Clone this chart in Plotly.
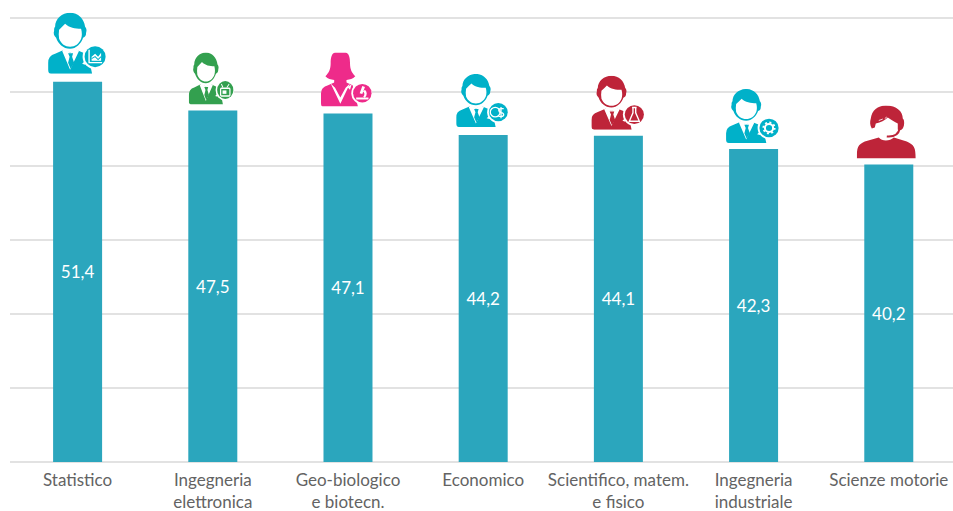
import base64
import plotly.graph_objects as go

categories = ["Statistico", "Ingegneria<br>elettronica", "Geo-biologico<br>e biotecn.", "Economico",
              "Scientifico, matem.<br>e fisico", "Ingegneria<br>industriale", "Scienze motorie"]
values = [51.4, 47.5, 47.1, 44.2, 44.1, 42.3, 40.2]
value_labels = ["51,4", "47,5", "47,1", "44,2", "44,1", "42,3", "40,2"]

BAR = "#2ba6bd"
GRID = "#e2e2e2"
TEXT = "#636363"
TEAL, GREEN, PINK, RED = "#00b1c9", "#33a04f", "#ee2b8a", "#be2439"
FONT = "Lato"
PX_PER_X, PX_PER_Y = 135.2, 7.4
X_RANGE = [-0.5, 6.475]
Y_RANGE = [0, 60.27]

GLYPHS = {
    "chart": '<path d="M41 37V50H54" fill="none" stroke="#fff" stroke-width="1.4"/><path d="M43.500 44L47 41L50 44L53 40V48H43.500Z" fill="#fff"/><path d="M43.500 46L47 44L50 47L53 44" fill="none" stroke="#00b1c9" stroke-width="1"/>',
    "tv": '<rect x="41" y="42" width="12" height="9" rx="1" fill="none" stroke="#fff" stroke-width="1.6"/><rect x="43.5" y="44.5" width="5" height="4" fill="#fff"/><path d="M44 41L42 37M49 41L52 37" stroke="#fff" stroke-width="1.2"/>',
    "micro": '<path d="M40 52H54V50H40zM47 37l3 1-3 8-3-1zM50 41a6 6 0 0 1 0 9l-2-1a4 4 0 0 0 0-6z" fill="#fff"/>',
    "money": '<circle cx="43.500" cy="44" r="5.500" fill="none" stroke="#fff" stroke-width="1.5"/><path d="M53 40H50Q47.500 40 47.500 42Q47.500 44 50 44.500Q53 45 53 47Q53 49 50 49H47M50 38V51" fill="none" stroke="#fff" stroke-width="1.4"/>',
    "flask": '<path d="M44.500 36H49.500M45.500 36V42L41.500 51.500H52.500L48.500 42V36" fill="none" stroke="#fff" stroke-width="1.5"/>',
    "gear": '<circle cx="47" cy="44" r="4.500" fill="none" stroke="#fff" stroke-width="2.200"/><circle cx="47" cy="44" r="6.200" fill="none" stroke="#fff" stroke-width="2" stroke-dasharray="2.200 2.600"/>',
}


def svg_uri(body, w, h):
    svg = (f'<svg xmlns="http://www.w3.org/2000/svg" width="{w * 4}" height="{h * 4}" '
           f'viewBox="0 0 {w} {h}" preserveAspectRatio="none">{body}</svg>')
    return "data:image/svg+xml;base64," + base64.b64encode(svg.encode()).decode()


def person(color, glyph, r=11):
    head = (f'<path d="M22 0C30 0 36 6 37 14C38 15 39 17 38 20C38 23 37 24 35 25C33 31 28 36 22 36'
            f'C15 36 10 31 8 25C6 23 5 21 6 18C6 16 6 15 7 14C7 6 14 0 22 0Z" fill="{color}"/>'
            f'<path d="M11 17C13 15 15 13 17 11C21 15 27 16 33 16C34 20 34 23 33 26C31 31 27 34 22 34'
            f'C17 34 13 31 11 26C10.500 23 10.500 20 11 17Z" fill="#fff"/>')
    body = (f'<path d="M3 61Q0 61 0 57V50Q0 43 7 41L16 37L22 40L28 37L40 42L44 61Z" fill="{color}"/>'
            f'<path d="M14 38L22 57L31 38L27 36L22 40L17 36Z" fill="#fff"/>'
            f'<path d="M20 40.500H25L24 44L26 50L22.500 56L20 50L21.500 44Z" fill="{color}"/>'
            f'<path d="M34 51L41 44L37 52Z" fill="#fff"/>')
    badge = (f'<circle cx="47" cy="44" r="{r + 1.5}" fill="#fff"/><circle cx="47" cy="44" r="{r - 0.5}" fill="{color}"/>'
             + GLYPHS[glyph])
    return svg_uri(head + body + badge, 58, 61)


def woman(color, glyph):
    hair = (f'<path d="M16 0H28C32 1 33 6 33 12C33 19 35 23 39 27C36 30 33 31 29 31V36H15V31C11 31 8 30 5 27'
            f'C9 23 11 19 11 12C11 6 12 1 16 0Z" fill="{color}"/>')
    body = (f'<path d="M2 61Q0 61 0 57V46Q0 39 8 37L17 33H27L36 37L42 61Z" fill="{color}"/>')
    collar = (f'<path d="M11 35L22 58L33 35L28 40L22 51L16 40Z" fill="#fff"/>'
              f'<path d="M30 39L35 36L33 42Z" fill="#fff"/>')
    badge = (f'<circle cx="47" cy="46" r="12.500" fill="#fff"/><circle cx="47" cy="46" r="10.500" fill="{color}"/>'
             f'<g transform="translate(0 1)">{GLYPHS[glyph]}</g>')
    return svg_uri(hair + body + collar + badge, 58, 61)


def headset(color):
    hair = (f'<path d="M29 0C40 0 46 6 46 13C48 14 48 22 45 24C44 25 42 25 41 24L41 18'
            f'C37 16 34 14 31 12C28 15 24 17 19 18L18 22L15 23C13 20 13 16 14 13C15 5 21 0 29 0Z" fill="{color}"/>'
            f'<path d="M43 23Q41 32 30 31" fill="none" stroke="{color}" stroke-width="2"/>'
            f'<path d="M22 15L26 13.500M28 13L30 11.500" stroke="#fff" stroke-width="0.800"/>')
    shoulders = (f'<path d="M0 53C0 42 1 39 8 36L22 32C25 36 33 36 37 32L50 36C57 39 59 42 59 53Z" fill="{color}"/>')
    return svg_uri(hair + shoulders, 59, 53)


# icon, left offset from bar centre, width, height, gap above bar (px)
icons = [
    (person(TEAL, "chart"), -29.5, 58, 61, 8),
    (person(GREEN, "tv"), -24, 45, 52, 6),
    (woman(PINK, "micro"), -27, 51, 54, 7),
    (person(TEAL, "money"), -27, 52, 53, 8),
    (person(RED, "flask"), -27, 53, 54, 6),
    (person(TEAL, "gear"), -27.5, 53, 54, 6),
    (headset(RED), -32, 59, 53, 6),
]

fig = go.Figure(go.Bar(
    x=list(range(len(categories))), y=values, width=49 / PX_PER_X,
    marker=dict(color=BAR, line=dict(width=0)),
    text=value_labels, textposition="inside", insidetextanchor="middle", textangle=0,
    insidetextfont=dict(family=FONT, size=17, color="#ffffff"),
    hoverinfo="skip",
))

x_span = X_RANGE[1] - X_RANGE[0]
y_span = Y_RANGE[1] - Y_RANGE[0]
images = []
for i, (src, left, w, h, gap) in enumerate(icons):
    # paper-anchored so that the tallest icon is not clipped by the plot area
    images.append(dict(source=src, xref="paper", yref="paper",
                       x=(i + left / PX_PER_X - X_RANGE[0]) / x_span,
                       y=(values[i] + (gap + h) / PX_PER_Y - Y_RANGE[0]) / y_span,
                       sizex=w / PX_PER_X / x_span, sizey=h / PX_PER_Y / y_span,
                       xanchor="left", yanchor="top", sizing="stretch", layer="above"))

fig.update_layout(
    width=953, height=511, autosize=False,
    margin=dict(l=10, r=0, t=16, b=49, pad=0, autoexpand=False),
    paper_bgcolor="white", plot_bgcolor="white", showlegend=False, images=images,
    font=dict(family=FONT, size=17, color=TEXT),
    xaxis=dict(range=X_RANGE, tickmode="array", tickvals=list(range(len(categories))), ticktext=categories,
               showgrid=False, showline=False, zeroline=False, ticks="", ticklen=0, tickangle=0, automargin=False,
               ticklabelstandoff=6, tickfont=dict(family=FONT, size=17, color=TEXT)),
    yaxis=dict(range=Y_RANGE, tickvals=[10, 20, 30, 40, 50, 60], showticklabels=False, gridcolor=GRID, gridwidth=1.5,
               showline=False, zeroline=True, zerolinecolor=GRID, zerolinewidth=1.5, ticks="", automargin=False),
)
fig.write_html("out.html", config=dict(displayModeBar=False),
               post_script="document.body.style.margin='0';document.body.style.overflow='hidden';")
